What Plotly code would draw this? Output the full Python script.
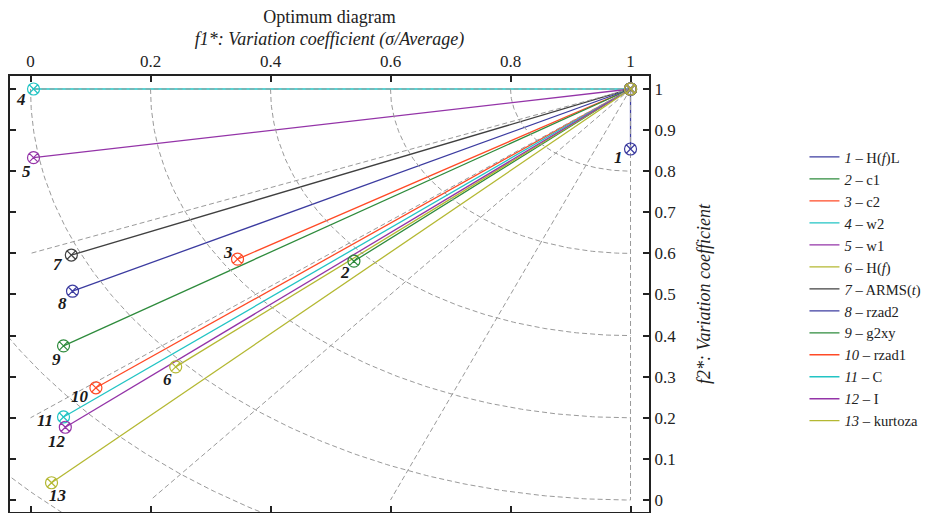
import numpy as np
import plotly.graph_objects as go

# ---- data ----
ids = [1, 2, 3, 4, 5, 6, 7, 8, 9, 10, 11, 12, 13]
names = ["H(<i>f</i>)L", "c1", "c2", "w2", "w1", "H(<i>f</i>)", "ARMS(<i>t</i>)",
         "rzad2", "g2xy", "rzad1", "C", "I", "kurtoza"]
f1 = [1.000, 0.539, 0.345, 0.005, 0.005, 0.242, 0.068, 0.070, 0.055, 0.109, 0.055, 0.058, 0.035]
f2 = [0.854, 0.581, 0.586, 1.000, 0.833, 0.324, 0.596, 0.508, 0.375, 0.273, 0.202, 0.177, 0.042]
colors = ["#3c3ca0", "#2e8b3c", "#ff4a26", "#22c4c4", "#9434a8", "#b4b832", "#404040",
          "#3c3ca0", "#2e8b3c", "#ff4a26", "#22c4c4", "#9434a8", "#b4b832"]
# label offsets in pixels (dx right, dy down)
lab_dx = [-12, -9, -10, -13, -7, -8, -13, -10, -7, -16, -19, -8, 6]
lab_dy = [8, 11, -7, 11, 14, 13, 9, 12, 14, 9, 4, 14, 13]

ideal = (1.0, 1.0)  # optimum point
arc_radii = [0.2, 0.4, 0.6, 0.8, 1.0, 1.2, 1.4]
ray_x = [0.0, 0.0, 0.0, 0.2, 0.6, 1.0]
ray_y = [1.0, 0.6, 0.2, 0.0, 0.0, 0.0]
xticks = [0, 0.2, 0.4, 0.6, 0.8, 1]
yticks = [0, 0.1, 0.2, 0.3, 0.4, 0.5, 0.6, 0.7, 0.8, 0.9, 1]

FONT = "Liberation Serif"
GRID = "#9a9a9a"
W, H = 930, 505

fig = go.Figure()

# data lines (legend entries)
for i in range(len(ids)):
    fig.add_trace(go.Scatter(
        x=[f1[i], ideal[0]], y=[f2[i], ideal[1]], mode="lines",
        line=dict(color=colors[i], width=1.3),
        name=f"<i>{ids[i]}</i> – {names[i]}", showlegend=True, hoverinfo="skip"))

# grid: arcs around the optimum
th = np.linspace(np.pi, 1.5 * np.pi, 200)
for r in arc_radii:
    fig.add_trace(go.Scatter(
        x=ideal[0] + r * np.cos(th), y=ideal[1] + r * np.sin(th), mode="lines",
        line=dict(color=GRID, width=1, dash="5px,3px"), showlegend=False, hoverinfo="skip"))
# grid: rays from the optimum
for rx, ry in zip(ray_x, ray_y):
    fig.add_trace(go.Scatter(
        x=[ideal[0], rx], y=[ideal[1], ry], mode="lines",
        line=dict(color=GRID, width=1, dash="5px,3px"), showlegend=False, hoverinfo="skip"))

# markers at both ends
for i in range(len(ids)):
    fig.add_trace(go.Scatter(
        x=[f1[i], ideal[0]], y=[f2[i], ideal[1]], mode="markers",
        marker=dict(symbol="circle-x-open", size=12, color=colors[i], line=dict(width=1.2, color=colors[i])),
        showlegend=False, hoverinfo="skip"))

# point labels
for i in range(len(ids)):
    fig.add_annotation(x=f1[i], y=f2[i], xref="x", yref="y", text=f"<b><i>{ids[i]}</i></b>",
                       showarrow=False, xshift=lab_dx[i], yshift=-lab_dy[i],
                       font=dict(family=FONT, size=17, color="#1a1a1a"))

fig.update_layout(
    width=W, height=H,
    margin=dict(l=2, r=289, t=68, b=1, autoexpand=False),
    paper_bgcolor="white", plot_bgcolor="white",
    font=dict(family=FONT, size=16, color="#222"),
    title=dict(text="Optimum diagram", x=(2 + 639 / 2) / W, xanchor="center",
               y=1 - 9 / H, yanchor="middle", font=dict(family=FONT, size=18, color="#222")),
    showlegend=True,
    legend=dict(x=1.2433, xanchor="left", y=0.851, yanchor="top",
                font=dict(family=FONT, size=14.6, color="#222"),
                bgcolor="rgba(0,0,0,0)", tracegroupgap=0),
)
fig.update_xaxes(range=[-0.0342, 1.0308], side="top", tickvals=xticks,
                 ticktext=[f"{v:g}" for v in xticks], automargin=False,
                 showgrid=False, zeroline=False, showline=True, linecolor="#222", linewidth=2,
                 mirror="allticks", ticks="inside", ticklen=6, tickcolor="#222", tickwidth=1.5,
                 title=dict(text="<i>f1*: Variation coefficient (σ/Average)</i>", standoff=2,
                            font=dict(family=FONT, size=18, color="#222")),
                 tickfont=dict(family=FONT, size=17, color="#222"))
fig.update_yaxes(range=[-0.0292, 1.0316], side="right", tickvals=yticks,
                 ticktext=[f"{v:g}" for v in yticks], automargin=False,
                 showgrid=False, zeroline=False, showline=True, linecolor="#222", linewidth=2,
                 mirror="allticks", ticks="inside", ticklen=6, tickcolor="#222", tickwidth=1.5,
                 title=dict(text="<i>f2*: Variation coefficient</i>", standoff=22,
                            font=dict(family=FONT, size=18, color="#222")),
                 tickfont=dict(family=FONT, size=17, color="#222"))

fig.write_html("out.html")
